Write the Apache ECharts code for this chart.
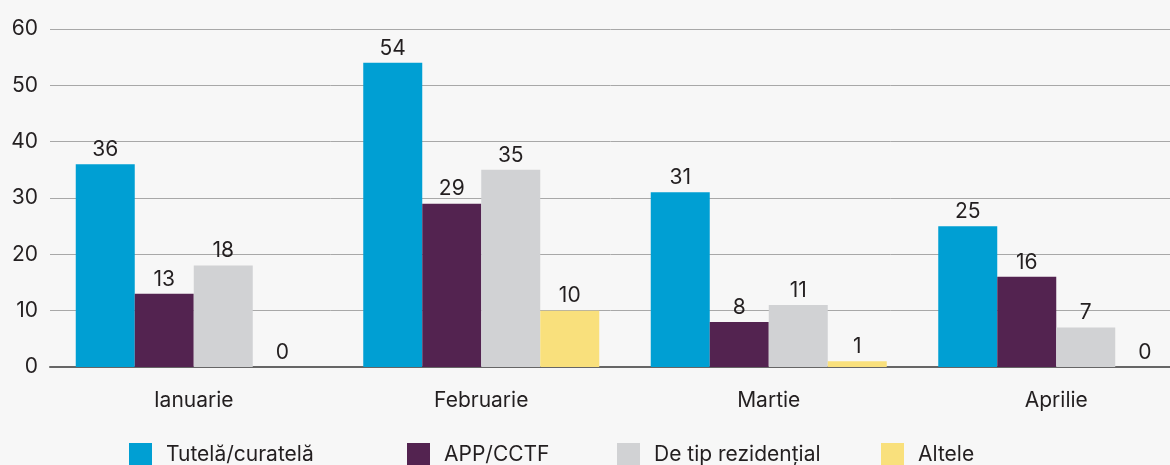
<!DOCTYPE html>
<html>
<head>
<meta charset="utf-8">
<script src="https://cdn.jsdelivr.net/npm/echarts@6/dist/echarts.min.js"></script>
<style>
  html, body { margin: 0; padding: 0; background: #f7f7f7; }
  #chartmain { width: 1170px; height: 465px; }
</style>
</head>
<body>
<div id="chartmain"></div>
<script>
var luni = ['Ianuarie', 'Februarie', 'Martie', 'Aprilie'];
var serii = ['Tutelă/curatelă', 'APP/CCTF', 'De tip rezidențial', 'Altele'];
var tutela = [36, 54, 31, 25];
var app = [13, 29, 8, 16];
var rezidential = [18, 35, 11, 7];
var altele = [0, 10, 1, 0];
var culori = ['#009fd3', '#532350', '#d1d2d4', '#f9e07c'];

var font = 'Inter, "Open Sans", sans-serif';
// pozitia fiecarui element din legenda
var legendaX = [129, 407, 617, 881];

function bara(nume, date) {
    return {
        name: nume,
        type: 'bar',
        data: date,
        barWidth: 59,
        barGap: '0%',
        label: {
            show: true,
            position: 'top',
            distance: 4,
            color: '#231f20',
            fontSize: 21,
            fontFamily: font
        }
    };
}

var legende = serii.map(function (nume, i) {
    return {
        left: legendaX[i],
        top: 443,
        padding: 0,
        itemWidth: 23,
        itemHeight: 23,
        icon: 'rect',
        textStyle: {
            color: '#231f20',
            fontSize: 21,
            fontFamily: font,
            padding: [0, 0, 0, 9]
        },
        data: [nume]
    };
});

var option = {
    backgroundColor: '#f7f7f7',
    animation: false,
    color: culori,
    grid: {
        left: 50,
        width: 1150,
        top: 29,
        bottom: 98,
        outerBoundsMode: 'none'
    },
    legend: legende,
    xAxis: {
        type: 'category',
        data: luni,
        axisTick: { show: false },
        axisLine: { lineStyle: { color: '#666', width: 2 } },
        axisLabel: {
            color: '#231f20',
            fontSize: 21,
            fontFamily: font,
            margin: 23
        }
    },
    yAxis: {
        type: 'value',
        min: 0,
        max: 60,
        interval: 10,
        axisLine: { show: false },
        axisTick: { show: false },
        splitLine: { lineStyle: { color: '#a8a8a8', width: 1 } },
        axisLabel: {
            color: '#231f20',
            fontSize: 21,
            fontFamily: font,
            margin: 12
        }
    },
    series: [
        bara(serii[0], tutela),
        bara(serii[1], app),
        bara(serii[2], rezidential),
        bara(serii[3], altele)
    ]
};

var myChart = echarts.init(document.getElementById('chartmain'));
myChart.setOption(option);
</script>
</body>
</html>
